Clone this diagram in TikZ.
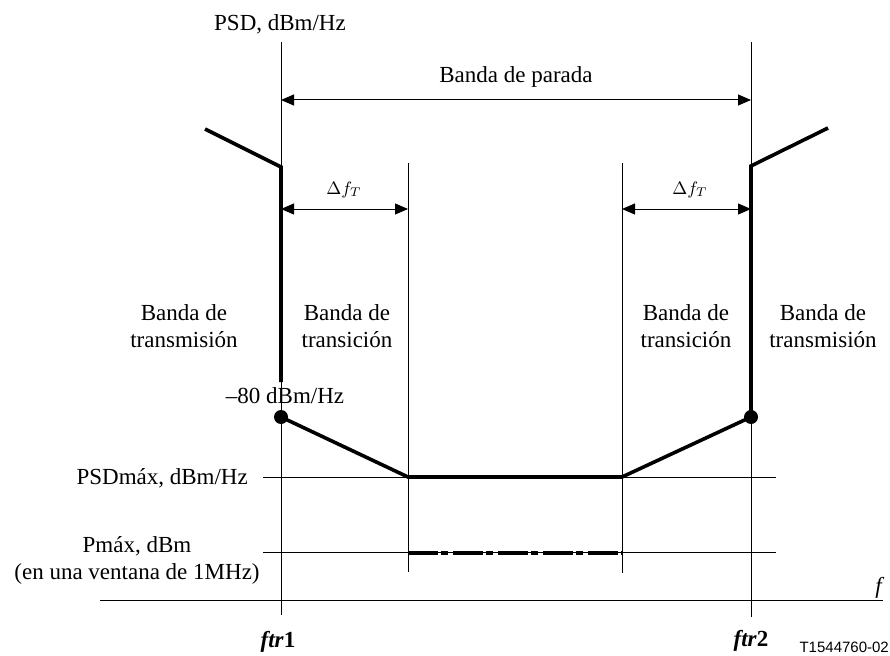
\documentclass[tikz,border=0pt]{standalone}
\usepackage{graphicx}
\usepackage{fontspec}
\setmainfont{Liberation Serif}
\newfontfamily\arialfont{Liberation Sans}
\usetikzlibrary{arrows.meta}
\tikzset{
  thinline/.style={line width=0.8pt, black},
  thickline/.style={line width=3.6pt, black, line join=miter},
  dimarrow/.style={line width=1pt, {Triangle[length=13pt,width=11pt]}-{Triangle[length=13pt,width=11pt]}},
  lbl/.style={inner sep=0pt, font=\fontsize{23}{27}\selectfont},
  lblc/.style={lbl, align=center, anchor=north},
  dotnode/.style={circle, fill=black, inner sep=0pt, minimum size=14pt},
  dashdot/.style={line width=3.6pt, black, dash pattern=on 30pt off 3pt on 7pt off 5pt}
}
\begin{document}
\begin{tikzpicture}[x=1pt, y=-1pt]
\useasboundingbox (0,0) rectangle (890,655);
% coordinates
\coordinate (a1t) at (281,42);  \coordinate (a1b) at (281,615);
\coordinate (a2t) at (751,42);  \coordinate (a2b) at (751,617);
\coordinate (m1t) at (408,163); \coordinate (m1b) at (408,572);
\coordinate (m2t) at (622,163); \coordinate (m2b) at (622,573);
\coordinate (pa) at (281,100);  \coordinate (pb) at (751,100);
\coordinate (t1a) at (281,209); \coordinate (t1b) at (408,209);
\coordinate (t2a) at (622,209); \coordinate (t2b) at (751,209);
\coordinate (psdl) at (263,477); \coordinate (psdr) at (776,477);
\coordinate (pml) at (263,552);  \coordinate (pmr) at (776,552);
\coordinate (axl) at (100,600);  \coordinate (axr) at (883,600);
\coordinate (k0) at (205,129); \coordinate (k1) at (281,167); \coordinate (k2) at (281,382);
\coordinate (b1) at (408,477); \coordinate (b2) at (622,477);
\coordinate (k3) at (751,166); \coordinate (k4) at (828,128);
\coordinate (dd1) at (408,553); \coordinate (dd2) at (622,553);
% thin lines
\draw[thinline] (a1t) -- (a1b);
\draw[thinline] (a2t) -- (a2b);
\draw[thinline] (m1t) -- (m1b);
\draw[thinline] (m2t) -- (m2b);
\draw[thinline] (psdl) -- (psdr);
\draw[thinline] (pml) -- (pmr);
\draw[thinline] (axl) -- (axr);
% dimension arrows
\draw[dimarrow] (pa) -- (pb);
\draw[dimarrow] (t1a) -- (t1b);
\draw[dimarrow] (t2a) -- (t2b);
% dots
\node[dotnode] (d1) at (281,417) {};
\node[dotnode] (d2) at (751,417) {};
% thick mask
\draw[thickline] (k0) -- (k1) -- (k2);
\draw[thickline] (d1.center) -- (b1) -- (b2) -- (d2.center) -- (k3) -- (k4);
\draw[dashdot] (dd1) -- (dd2);
% labels
\node[lbl, anchor=base] (psd) at (280,31) {PSD, dBm/Hz};
\node[lbl, anchor=base] (parada) at (516,83) {Banda de parada};
\node[inner sep=0pt, anchor=base] (df1) at (344,194) {\scalebox{1.8}{$\Delta f_T$}};
\node[inner sep=0pt, anchor=base] (df2) at (690,194) {\scalebox{1.8}{$\Delta f_T$}};
\node[lblc] (bt1) at (184,304) {Banda de\\transmisión};
\node[lblc] (bs1) at (347,304) {Banda de\\transición};
\node[lblc] (bs2) at (686,304) {Banda de\\transición};
\node[lblc] (bt2) at (823,304) {Banda de\\transmisión};
\node[lbl, anchor=base] (m80) at (285,403) {–80 dBm/Hz};
\node[lbl, anchor=base east] (psdmax) at (248,484) {PSDmáx, dBm/Hz};
\node[lblc] (pmax) at (137,536) {Pmáx, dBm\\(en una ventana de 1MHz)};
\node[lbl, anchor=base] (flab) at (880,593) {\textit{f}};
\node[lbl, anchor=base] (ftr1) at (278,647) {\textbf{\textit{ftr}1}};
\node[lbl, anchor=base] (ftr2) at (751,646) {\textbf{\textit{ftr}2}};
\node[inner sep=0pt, anchor=base east, font=\arialfont\fontsize{15}{17}\selectfont] (code) at (889,652) {T1544760-02};
\end{tikzpicture}
\end{document}
